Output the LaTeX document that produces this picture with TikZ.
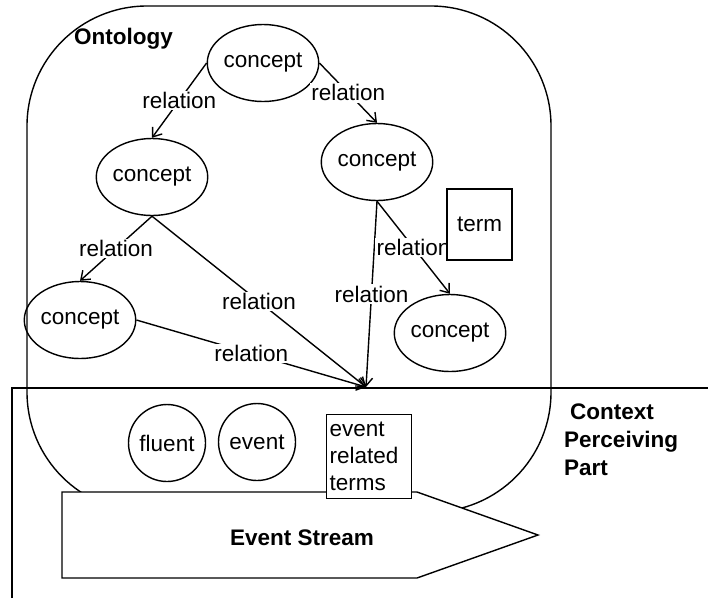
\documentclass[tikz,border=0pt]{standalone}
\usepackage{fontspec}
\setmainfont{Liberation Sans}
\usetikzlibrary{shapes.geometric,arrows.meta}
\tikzset{
  every picture/.style={x=1pt,y=-1pt},
  txt/.style={font=\fontsize{22.5}{27}\selectfont},
  btxt/.style={font=\fontsize{22.5}{28}\selectfont\bfseries},
  concept/.style={draw, ellipse, line width=1.4pt, inner sep=0pt, minimum width=85pt, minimum height=77pt, txt},
  roundnode/.style={draw, circle, line width=1.4pt, inner sep=0pt, minimum size=77pt, txt},
  boxnode/.style={draw, fill=white, rectangle, line width=1.4pt, txt},
  rel/.style={line width=1.4pt, -{Straight Barb[length=8pt,width=12pt]}},
  rellabel/.style={fill=white, inner sep=1.5pt, txt},
  frame/.style={line width=1.4pt}
}
\begin{document}
\begin{tikzpicture}
\useasboundingbox (0,0) rectangle (708,598);
% context perceiving part frame
\coordinate (cpbl) at (12,598);
\coordinate (cptl) at (12,388);
\coordinate (cptr) at (708,388);
\draw[frame] (cpbl) -- (cptl) -- (cptr);
% ontology rounded rectangle
\draw[frame, rounded corners=120pt] (27,6) rectangle (551,512);
\node[btxt, anchor=base west, inner sep=0pt] (ontology) at (74,44) {Ontology};
% concepts
\node[concept] (c1) at (263,63) {concept};
\node[concept] (c2) at (152,177) {concept};
\node[concept] (c3) at (377,162) {concept};
\node[concept] (c4) at (80,320) {concept};
\node[concept] (c5) at (450,333) {concept};
\coordinate (hub) at (366,387);
% relations
\draw[rel] (c1.west) -- node[rellabel] {relation} (c2.north);
\draw[rel] (c1.east) -- node[rellabel] {relation} (c3.north);
\draw[rel] (c2.south) -- node[rellabel] {relation} (c4.north);
\draw[rel] (c2.south) -- node[rellabel] {relation} (hub);
\draw[rel] (c4.east) -- node[rellabel] {relation} (hub);
\draw[rel] (c3.south) -- node[rellabel] {relation} (hub);
\draw[rel] (c3.south) -- node[rellabel] {relation} (c5.north);
% term
\node[boxnode, minimum width=65pt, minimum height=71pt, inner sep=0pt] (term) at (479.5,224.5) {term};
% fluent and event
\node[roundnode] (fluent) at (167,443) {fluent};
\node[roundnode] (event) at (257,442) {event};
% event stream
\draw[frame, fill=white] (62,492) -- (417,492) -- (538,535) -- (417,578) -- (62,578) -- cycle;
\node[btxt, anchor=base, inner sep=0pt] (stream) at (302,545) {Event Stream};
% event related terms
\node[boxnode, anchor=north west, minimum height=84pt, text width=79pt, inner xsep=3pt, inner ysep=0pt, align=left] (ert) at (326,414) {event\\related\\terms};
% context label
\node[btxt, anchor=west, align=left, inner sep=0pt] (ctx) at (564,440) {\hspace{6pt}Context\\Perceiving\\Part};
\end{tikzpicture}
\end{document}
